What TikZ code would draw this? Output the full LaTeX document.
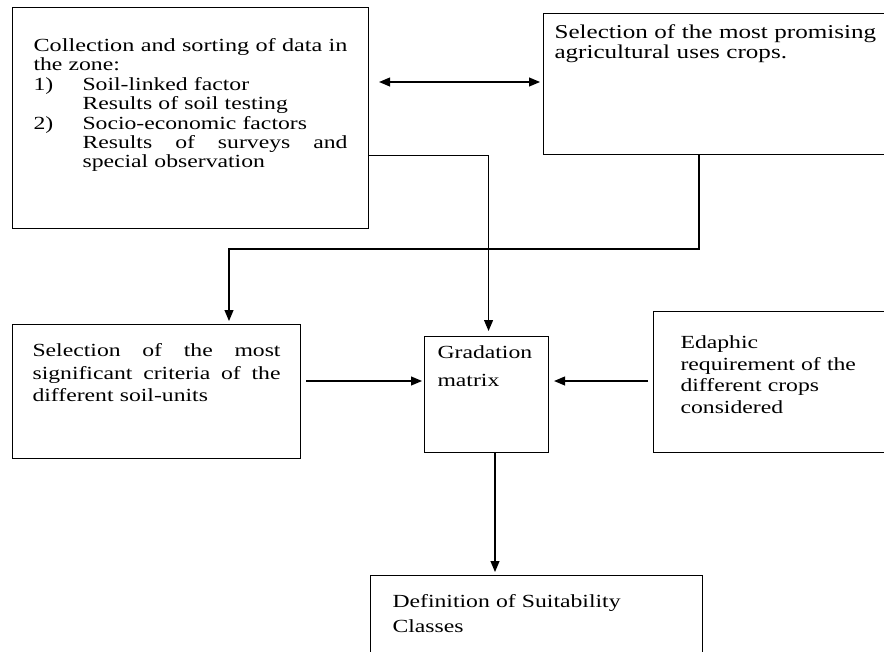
\documentclass[tikz,border=0pt]{standalone}
\usepackage{fontspec}
\usepackage{graphicx}
\setmainfont{Liberation Serif}[FakeStretch=1.28]
\usetikzlibrary{arrows.meta}
\newcommand\spreadline[2]{{\spaceskip=0.25em plus 1fil\makebox[#1][s]{#2}}}

\begin{document}
\begin{tikzpicture}[
  x=1pt,y=-1pt,line width=1.1pt,>={Triangle[length=11pt,width=9pt]},
  box/.style={draw,anchor=north west,inner ysep=0pt,align=left,
    font=\fontsize{18.5}{#1}\selectfont},
  box/.default=20
]
\useasboundingbox (0,0) rectangle (884,651);
\clip (0,0) rectangle (884,651);
\node[box=19.4,inner xsep=21pt,text width=314pt,text height=44pt,text depth=177pt] (collect) at (12,7)
  {\resizebox{314pt}{\height}{Collection and sorting of data in}\\
   the zone:\\
   \makebox[49pt][l]{1)}Soil-linked factor\\
   \hspace*{49pt}Results of soil testing\\
   \makebox[49pt][l]{2)}Socio-economic factors\\
   \hspace*{49pt}\spreadline{265pt}{Results of surveys and}\\
   \hspace*{49pt}special observation};
\node[box=20,font=\fontsize{19.6}{20}\selectfont,inner xsep=11pt,text width=360pt,text height=25pt,text depth=116pt] (promise) at (543,13)
  {Selection of the most promising\\agricultural uses crops.};
\node[box=22.5,inner xsep=20pt,text width=248pt,text height=32pt,text depth=102pt] (signif) at (12,324)
  {\spreadline{248pt}{Selection of the most}\\
   \spreadline{248pt}{significant criteria of the}\\
   different soil-units};
\node[box=28,inner xsep=13pt,text width=98pt,text height=22pt,text depth=94pt] (grad) at (424,336)
  {Gradation\\matrix};
\node[box=21.5,inner xsep=27pt,text width=220pt,text height=37pt,text depth=104pt] (edaph) at (653,311)
  {Edaphic\\requirement of the\\different crops\\considered};
\node[box=25,inner xsep=22pt,text width=288pt,text height=32pt,text depth=70pt] (defn) at (370,575)
  {Definition of Suitability\\Classes};
% connectors
\coordinate (dbl) at (0,82);
\coordinate (row) at (0,381);
\coordinate (turn) at (699,249);
\coordinate (bend) at (229,249);
\coordinate (down) at (495,0);
\draw[<->,shorten <=10pt,shorten >=3pt] (collect.east |- dbl) -- (promise.west |- dbl);
\draw[->,shorten >=5pt] (collect.east |- promise.south) -| ([xshift=2pt]grad.north);
\draw[->,shorten >=3pt] (turn |- promise.south) -- (turn) -- (bend) -- (bend |- signif.north);
\draw[->,shorten <=5pt,shorten >=2pt] (signif.east |- row) -- (grad.west |- row);
\draw[->,shorten <=5pt,shorten >=5pt] (edaph.west |- row) -- (grad.east |- row);
\draw[->,shorten >=3pt] (grad.south -| down) -- (defn.north -| down);
\end{tikzpicture}
\end{document}
